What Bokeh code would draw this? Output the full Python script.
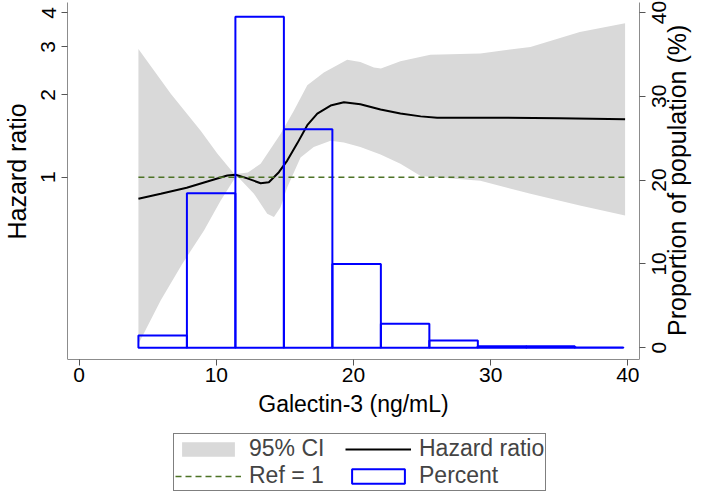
import math
from bokeh.plotting import figure
from bokeh.models import (Range1d, LinearAxis, LinearScale, FixedTicker,
                          PrintfTickFormatter, CustomJSTickFormatter, Legend)
from bokeh.embed import file_html
from bokeh.resources import INLINE

# ---- data ----
hr_x = [4.32, 5.95, 7.84, 9.59, 10.8, 11.4, 12.26, 13.23, 13.83, 14.56, 15.17,
        15.9, 16.63, 17.36, 18.33, 19.3, 20.5, 21.97, 23.42, 24.9, 26.1, 30.6,
        35.0, 39.8]
hr_y = [0.833, 0.869, 0.915, 0.973, 1.014, 1.02, 0.99, 0.95, 0.958, 1.043, 1.15,
        1.33, 1.55, 1.71, 1.83, 1.88, 1.85, 1.77, 1.71, 1.67, 1.65, 1.65,
        1.645, 1.63]

ub_x = [4.32, 6.68, 8.86, 10.07, 11.29, 11.6, 12.3, 13.23, 14.68, 15.65, 16.63,
        17.84, 19.54, 20.5, 21.48, 22.0, 23.42, 25.6, 29.25, 32.9, 36.5, 39.8]
ub_y = [2.95, 2.02, 1.48, 1.22, 1.03, 1.03, 1.04, 1.12, 1.44, 1.75, 2.17,
        2.42, 2.69, 2.64, 2.52, 2.50, 2.66, 2.81, 2.84, 3.0, 3.40, 3.66]

lb_x = [4.32, 5.95, 7.5, 9.1, 10.32, 11.29, 11.6, 12.74, 13.71, 14.2, 14.68,
        15.17, 16.14, 17.1, 18.33, 19.3, 20.5, 21.97, 23.42, 24.9, 29.25, 32.9,
        36.5, 39.8]
lb_y = [0.245, 0.354, 0.48, 0.638, 0.822, 0.98, 1.0, 0.87, 0.735, 0.714, 0.776,
        0.919, 1.18, 1.29, 1.36, 1.34, 1.29, 1.21, 1.12, 1.01, 0.97, 0.87,
        0.788, 0.724]

bin_left = [4.32, 7.855, 11.39, 14.925, 18.46, 21.995, 25.53, 29.065, 32.6, 36.135]
bin_right = [7.855, 11.39, 14.925, 18.46, 21.995, 25.53, 29.065, 32.6, 36.135, 39.67]
pct = [1.46, 18.44, 39.5, 26.07, 10.0, 2.85, 0.86, 0.18, 0.18, 0.03]

ref_value = 1
x_ticks = [0, 10, 20, 30, 40]
hr_ticks = [1, 2, 3, 4]
pct_ticks = [0, 10, 20, 30, 40]
pct_labels = [str(t) for t in pct_ticks]

# ---- layout constants (pixels / ranges of the plot region) ----
hr_bounds = (0.215, 4.363)       # plot region on the hazard-ratio axis
pct_bounds = (-1.41, 41.19)      # plot region on the percent axis
hr_frame = (0.0700, 4.363)       # frame also holds the legend below the plot
pct_frame = (-17.28, 41.19)
PX_PER_PCT = 8.38
NUM_FS = 21
YTITLE_FS = 25
left_title_mid = 21.03           # centre of the left title (pct units)
right_title_start = 1.40         # where the right title starts (pct units)

FONT = "Liberation Sans"
AXIS_GREY = "#8c8c8c"

p = figure(width=709, height=492,
           x_range=Range1d(-0.85, 40.85),
           y_range=Range1d(*hr_frame), y_axis_type="log",
           output_backend="svg", toolbar_location=None,
           min_border_left=67, min_border_right=70,
           min_border_top=2, min_border_bottom=0)
p.extra_y_ranges = {"pct": Range1d(*pct_frame)}
p.extra_y_scales = {"pct": LinearScale()}
p.outline_line_color = None
p.grid.visible = False
p.background_fill_color = "white"
p.border_fill_color = "white"

ci = p.patch(ub_x + lb_x[::-1], ub_y + lb_y[::-1],
             fill_color="#d9d9d9", line_color=None)
hr = p.line(hr_x, hr_y, line_color="black", line_width=2)
ref = p.line([min(hr_x), max(hr_x)], [ref_value, ref_value],
             line_color="#4d7326", line_dash="6 4", line_width=1.5)
hist = p.quad(left=bin_left, right=bin_right, bottom=0, top=pct,
              y_range_name="pct", fill_color=None,
              line_color="#0000ff", line_width=2)

def style_axis(ax, fs="21px"):
    ax.axis_line_color = AXIS_GREY
    ax.axis_line_width = 1
    ax.major_tick_line_color = "#555555"
    ax.major_tick_out = 6
    ax.major_tick_in = 0
    ax.minor_tick_line_color = None
    ax.major_label_text_font = FONT
    ax.major_label_text_font_size = fs
    ax.major_label_text_color = "black"
    ax.axis_label_text_font = FONT
    ax.axis_label_text_font_size = "23px"
    ax.axis_label_text_font_style = "normal"
    ax.axis_label_text_color = "black"

def bare(ax):
    ax.axis_line_color = None
    ax.major_tick_line_color = None
    ax.major_tick_out = 0
    ax.major_tick_in = 0

# bottom axis, fixed at the bottom of the plot region
xa = p.xaxis[0]
style_axis(xa)
xa.ticker = FixedTicker(ticks=x_ticks)
xa.axis_label = "Galectin-3 (ng/mL)"
xa.fixed_location = hr_bounds[0]
xa.major_label_standoff = 3
xa.axis_label_standoff = 5

# left axis: hazard ratio (log)
ya = p.yaxis[0]
style_axis(ya)
ya.ticker = FixedTicker(ticks=hr_ticks)
ya.formatter = PrintfTickFormatter(format="%d")
ya.bounds = hr_bounds
ya.major_label_orientation = "vertical"
ya.major_label_standoff = 6

# left title as a rotated label
lt = LinearAxis(y_range_name="pct", ticker=FixedTicker(ticks=[left_title_mid]),
                formatter=CustomJSTickFormatter(code="return 'Hazard ratio'"))
style_axis(lt, f"{YTITLE_FS}px")
bare(lt)
lt.major_label_orientation = "vertical"
lt.major_label_standoff = 7
p.add_layout(lt, "left")

# right axis: line + ticks
ra = LinearAxis(y_range_name="pct", ticker=FixedTicker(ticks=pct_ticks),
                formatter=CustomJSTickFormatter(code="return ''"))
style_axis(ra)
ra.bounds = pct_bounds
ra.major_label_standoff = 0
p.add_layout(ra, "right")

# right axis numbers, rotated, centred on their ticks
half = [len(s) * 0.556 * NUM_FS / 2 / PX_PER_PCT for s in pct_labels]
rb = LinearAxis(y_range_name="pct",
                ticker=FixedTicker(ticks=[t - h for t, h in zip(pct_ticks, half)]),
                formatter=CustomJSTickFormatter(args=dict(labels=pct_labels),
                                                code="return labels[index]"))
style_axis(rb)
bare(rb)
rb.major_label_orientation = math.pi / 2
rb.major_label_standoff = 14
p.add_layout(rb, "right")

# right title
rc = LinearAxis(y_range_name="pct", ticker=FixedTicker(ticks=[right_title_start]),
                formatter=CustomJSTickFormatter(code="return 'Proportion of population (%)'"))
style_axis(rc, f"{YTITLE_FS}px")
bare(rc)
rc.major_label_orientation = math.pi / 2
rc.major_label_standoff = 1
p.add_layout(rc, "right")

legend = Legend(items=[("95% CI", [ci]), ("Hazard ratio", [hr]),
                       ("Ref = 1", [ref]), ("Percent", [hist])],
                orientation="horizontal", ncols=2, location=(106, 1),
                label_text_font=FONT, label_text_font_size="23px",
                glyph_width=66, glyph_height=18, label_standoff=8,
                label_width=96, spacing=0, padding=1, margin=0,
                border_line_color="black", border_line_width=1,
                background_fill_color="white")
p.add_layout(legend, "center")

open("out.html", "w").write(file_html(p, INLINE))
